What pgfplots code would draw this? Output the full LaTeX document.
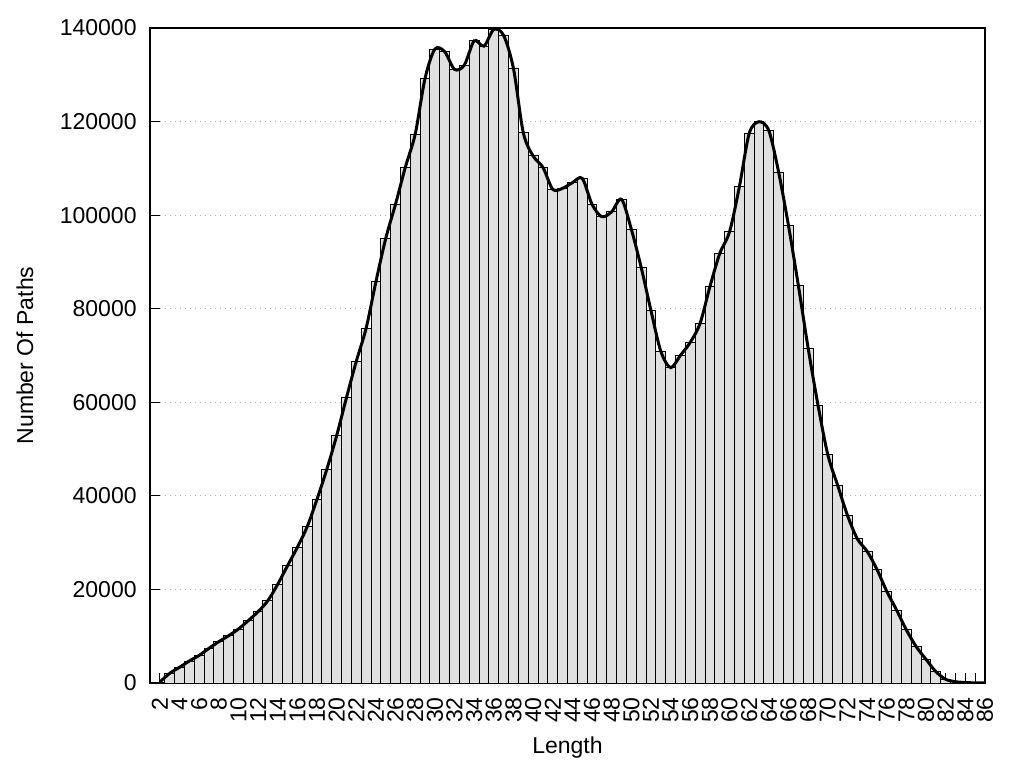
\documentclass[border=0pt]{standalone}
\usepackage{fontspec}
\setmainfont{Liberation Sans}
\usepackage{pgfplots}
\pgfplotsset{compat=1.18}
\usetikzlibrary{calc}
\pgfplotstableread{
x y
2 200
3 2070
4 3350
5 4700
6 5900
7 7400
8 8830
9 10100
10 11540
11 13320
12 15240
13 17600
14 21100
15 25070
16 29000
17 33400
18 39260
19 45680
20 52860
21 60980
22 68760
23 75800
24 85780
25 95040
26 102380
27 110290
28 117340
29 129240
30 135500
31 134930
32 131150
33 132070
34 137270
35 136130
36 139700
37 138410
38 131360
39 117630
40 112650
41 110220
42 105520
43 105730
44 106940
45 107870
46 102310
47 99660
48 100730
49 103380
50 96970
51 88850
52 79580
53 70900
54 67400
55 70040
56 72820
57 76880
58 84730
59 91800
60 96460
61 106090
62 117480
63 119970
64 118040
65 109130
66 97740
67 85000
68 71540
69 59420
70 48800
71 42260
72 35840
73 30840
74 28150
75 24300
76 19600
77 15600
78 11330
79 7760
80 5060
81 2420
82 790
83 280
84 100
85 30
86 0
}\datatable
\begin{document}
\fontsize{11.5}{13.8}\selectfont
\begin{tikzpicture}
\begin{axis}[
  at={(0,0)}, anchor=south west,
  scale only axis, width=417.5pt, height=327.5pt,
  xmin=1, xmax=86, ymin=0, ymax=140000,
  xtick={2,4,...,86}, minor xtick={3,5,...,85},
  ytick={0,20000,...,140000},
  tick align=inside, tick pos=left,
  major tick length=5pt, minor tick length=5pt,
  every tick/.append style={black, line width=0.5pt},
  every minor tick/.append style={black, line width=0.5pt},
  axis line style={line width=0.6pt},
  scaled y ticks=false,
  /pgf/number format/assume math mode=true,
  yticklabel style={/pgf/number format/fixed, /pgf/number format/1000 sep={}, inner sep=0pt, font=\fontsize{11.5}{13.8}\selectfont},
  xticklabel style={rotate=90, anchor=east, inner sep=0pt, font=\fontsize{11.5}{13.8}\selectfont},
  xticklabel shift=7pt, yticklabel shift=6.5pt,
  ymajorgrids=true,
  major grid style={dash pattern=on 0.5pt off 2pt, black!30, line width=0.5pt},
  xlabel={Length}, ylabel={Number Of Paths},
  every axis x label/.style={at={(axis description cs:0.5,0)}, yshift=-32.5pt, anchor=center, font=\fontsize{11.5}{13.8}\selectfont},
  every axis y label/.style={at={(axis description cs:0,0.5)}, xshift=-62.5pt, rotate=90, anchor=center, font=\fontsize{11.5}{13.8}\selectfont},
]
\coordinate (O) at (rel axis cs:0,0);
\addplot[ybar, bar width=1, bar shift=0pt, fill=black!12, draw=black, line width=0.5pt] table {\datatable};
\addplot[smooth, line width=1.5pt, black, mark=none] table {\datatable};
\end{axis}
\path ($(O)+(-75pt,-42.5pt)$) rectangle ($(O)+(437pt,341.5pt)$);
\end{tikzpicture}
\end{document}
